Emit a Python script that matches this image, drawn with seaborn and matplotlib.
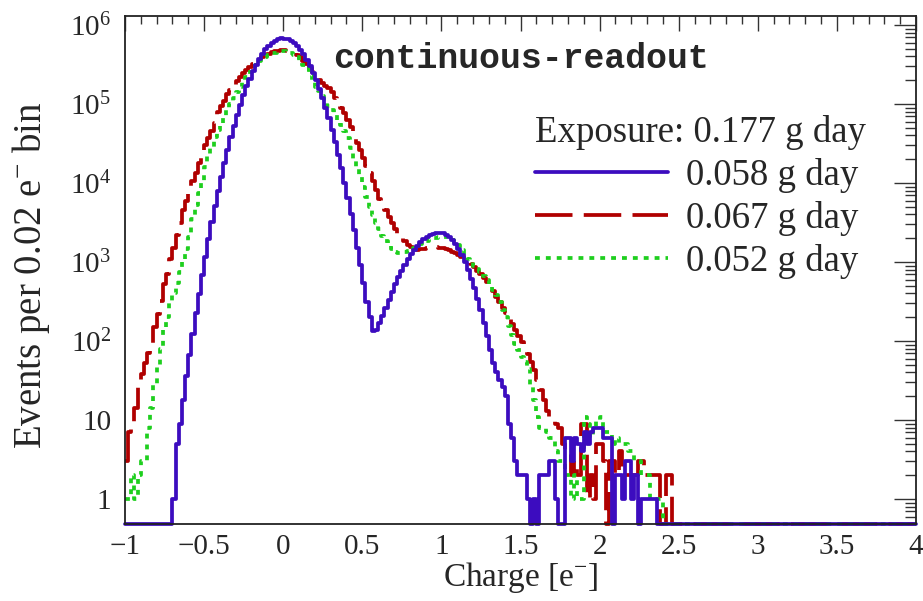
import numpy as np
import pandas as pd
import matplotlib
matplotlib.use("Agg")
import matplotlib.pyplot as plt
import seaborn as sns
from matplotlib.lines import Line2D
from matplotlib.ticker import MultipleLocator, LogLocator, FuncFormatter, NullFormatter

# ---------------- data (counts per 0.02 e- bin, bins from -1.00 to 2.50) ----------------
bin_width = 0.02
x_min, x_max = -1.0, 4.0
legend_title = "Exposure: 0.177 g day"
series_labels = ["0.058 g day", "0.067 g day", "0.052 g day"]
title_text = "continuous-readout"
x_label = "Charge [e$^{-}$]"
y_label = "Events per 0.02 e$^{-}$ bin"

counts_058 = [
    0, 0, 0, 0, 0, 0, 0, 0, 0, 0,
    0, 0, 0, 0, 0, 1, 5, 9, 18, 36,
    67, 124, 224, 398, 690, 1170, 1950, 3170, 5060, 7890,
    12050, 18000, 26400, 37800, 53100, 72900, 98200, 129000, 167000, 210000,
    260000, 315000, 372000, 432000, 491000, 546000, 594000, 633000, 661000, 675000,
    674000, 659000, 631000, 590000, 541000, 484000, 424000, 363000, 304000, 249000,
    200000, 157000, 120000, 90200, 66200, 47500, 33400, 22900, 15400, 10100,
    6500, 4090, 2520, 1520, 910, 540, 310, 200, 135, 138,
    171, 209, 264, 334, 420, 524, 644, 780, 929, 1090,
    1260, 1440, 1610, 1780, 1940, 2070, 2190, 2270, 2330, 2340,
    2310, 2220, 2080, 1890, 1680, 1450, 1220, 998, 794, 617,
    466, 343, 245, 171, 116, 77, 52, 40, 32, 26,
    20, 9, 6, 3, 2, 2, 2, 1, 0, 1,
    0, 2, 2, 2, 3, 3, 1, 0, 0, 6,
    6, 3, 6, 5, 4, 7, 5, 7, 8, 8,
    8, 6, 6, 6, 0, 2, 2, 1, 3, 3,
    1, 2, 0, 1, 1, 1, 1, 1, 0, 0,
    0, 0, 0, 0, 0,
]
counts_067 = [
    3, 7, 9, 14, 28, 38, 52, 70, 95, 150,
    220, 320, 520, 700, 1100, 1500, 2200, 3100, 4500, 6000,
    7800, 10500, 13500, 18000, 24000, 30000, 37000, 46000, 58000, 80000,
    95000, 110000, 135000, 150000, 170000, 195000, 220000, 245000, 270000, 295000,
    320000, 345000, 370000, 395000, 415000, 435000, 450000, 462000, 472000, 478000,
    479000, 473000, 457000, 437000, 417000, 389000, 355000, 324000, 288000, 251000,
    219000, 204000, 186000, 170000, 158000, 141000, 120000, 105000, 89000, 76000,
    63000, 51000, 42000, 32000, 26000, 21000, 16600, 13500, 10500, 8100,
    6300, 5400, 4500, 3700, 3100, 2600, 2240, 2000, 1820, 1660,
    1550, 1480, 1410, 1450, 1480, 1510, 1550, 1550, 1550, 1510,
    1510, 1480, 1410, 1350, 1290, 1230, 1150, 1100, 1020, 955,
    870, 776, 708, 631, 562, 501, 427, 363, 309, 263,
    224, 191, 162, 138, 117, 98, 81, 68, 54, 43,
    32, 24, 18, 13, 11, 10, 9, 8, 5, 4,
    4, 2, 3, 2, 9, 9, 1, 2, 1, 5,
    5, 3, 0, 3, 3, 2, 4, 2, 2, 2,
    2, 2, 3, 3, 2, 2, 2, 2, 2, 0,
    0, 2, 2, 0, 0,
]
counts_052 = [
    1, 1, 2, 1, 2, 3, 3, 8, 14, 28,
    48, 80, 140, 200, 300, 400, 540, 750, 1000, 1450,
    2100, 3470, 5200, 7400, 10700, 15800, 22400, 28800, 38000, 46800,
    57500, 70800, 85100, 100000, 120000, 141000, 166000, 191000, 219000, 251000,
    282000, 316000, 347000, 372000, 398000, 417000, 437000, 447000, 457000, 462000,
    462000, 457000, 442000, 417000, 389000, 355000, 316000, 275000, 234000, 200000,
    166000, 145000, 126000, 110000, 95500, 83200, 72400, 61700, 53700, 45700,
    37000, 27500, 20400, 15500, 12000, 8900, 6600, 5000, 3900, 3100,
    2600, 2140, 1860, 1620, 1450, 1350, 1290, 1290, 1320, 1380,
    1410, 1510, 1620, 1700, 1780, 1860, 1950, 2000, 2040, 2090,
    2090, 2090, 2040, 1900, 1780, 1620, 1410, 1200, 1100, 1000,
    890, 810, 740, 660, 590, 525, 447, 380, 309, 245,
    200, 155, 120, 93, 76, 63, 54, 44, 28, 18,
    11, 8, 8, 7, 6, 6, 4, 3, 3, 2,
    2, 1, 2, 1, 1, 11, 9, 6, 8, 10,
    11, 7, 7, 7, 5, 6, 5, 5, 5, 4,
    4, 3, 3, 2, 2, 2, 1, 1, 1, 1,
    0, 0, 0, 0, 0,
]

# ---------------- styling ----------------
colors = {"0.058 g day": "#3c0cbf", "0.067 g day": "#b00000", "0.052 g day": "#1ecf1e"}
styles = {"0.058 g day": "-", "0.067 g day": (0, (10, 3)), "0.052 g day": (0, (1.3, 1.6))}
y_lo, y_hi = 0.483, 1.3e6

sns.set_style("white")
plt.rcParams["font.family"] = ["Liberation Serif", "DejaVu Serif"]
plt.rcParams["mathtext.fontset"] = "custom"
plt.rcParams["mathtext.rm"] = "Liberation Serif"
plt.rcParams["mathtext.it"] = "Liberation Serif:italic"
plt.rcParams["mathtext.bf"] = "Liberation Serif:bold"

fig = plt.figure(figsize=(9.23, 6.01), dpi=100)
ax = fig.add_axes([125 / 923, 1 - 524 / 601, 791 / 923, 508 / 601])

n_bins = int(round((x_max - x_min) / bin_width))
edges = np.round(np.linspace(x_min, x_max, n_bins + 1), 4)

series = [("0.058 g day", counts_058), ("0.067 g day", counts_067), ("0.052 g day", counts_052)]
frames = []
for label, counts in series:
    c = np.zeros(n_bins)
    c[: len(counts)] = counts
    yv = np.append(c, c[-1])
    yv = np.clip(yv, y_lo, None)  # empty bins drawn on the frame, as ROOT does
    frames.append(pd.DataFrame({"charge": edges, "events": yv, "exposure": label}))
df = pd.concat(frames, ignore_index=True)

ax.set_yscale("log")
draw_order = ["0.067 g day", "0.052 g day", "0.058 g day"]
for label in draw_order:
    sub = df[df["exposure"] == label]
    sns.lineplot(data=sub, x="charge", y="events", ax=ax, drawstyle="steps-post",
                 color=colors[label], linestyle=styles[label], linewidth=2.7,
                 estimator=None, sort=False, legend=False, clip_on=False)

ax.set_xlim(x_min, x_max)
ax.set_ylim(y_lo, y_hi)

# axes frame and ticks (ROOT-like)
for s in ax.spines.values():
    s.set_linewidth(1.3)
    s.set_color("#222222")
ax.xaxis.set_major_locator(MultipleLocator(0.5))
ax.xaxis.set_minor_locator(MultipleLocator(0.1))
ax.yaxis.set_major_locator(LogLocator(base=10, numticks=20))
ax.yaxis.set_minor_locator(LogLocator(base=10, subs=np.arange(2, 10), numticks=20))
ax.yaxis.set_minor_formatter(NullFormatter())


def xfmt(v, pos):
    s = ("%g" % v)
    return s.replace("-", "\u2212")


def yfmt(v, pos):
    e = int(round(np.log10(v)))
    if e == 0:
        return "1"
    if e == 1:
        return "10"
    return "$10^{%d}$" % e


ax.xaxis.set_major_formatter(FuncFormatter(xfmt))
ax.yaxis.set_major_formatter(FuncFormatter(yfmt))
ax.tick_params(which="both", direction="in", top=True, right=True, color="#333333", width=1.0)
ax.tick_params(axis="x", which="major", length=11, labelsize=21, pad=7)
ax.tick_params(axis="x", which="minor", length=5.5)
ax.tick_params(axis="y", which="major", length=16, labelsize=21, pad=10)
ax.tick_params(axis="y", which="minor", length=8)

ax.set_xlabel(x_label, fontsize=24)
ax.set_ylabel(y_label, fontsize=28)
ax.xaxis.set_label_coords(0.5, -0.07)
ax.yaxis.set_label_coords(-0.092, 0.49)

fig.text(521 / 923, 1 - 58 / 601, title_text, ha="center", va="center",
         family="Liberation Mono", fontweight="bold", fontsize=25)

handles = [Line2D([], [], color=colors[l], linestyle=styles[l], linewidth=2.7) for l in series_labels]
leg = ax.legend(handles, series_labels, title=legend_title, loc="upper left",
                bbox_to_anchor=(535 / 923, 1 - 115 / 601), bbox_transform=fig.transFigure,
                frameon=False, fontsize=26.5, title_fontsize=26.5, handlelength=3.6,
                handletextpad=0.5, labelspacing=0.22, borderpad=0, borderaxespad=0,
                alignment="left")

fig.savefig("out.png", dpi=100)
